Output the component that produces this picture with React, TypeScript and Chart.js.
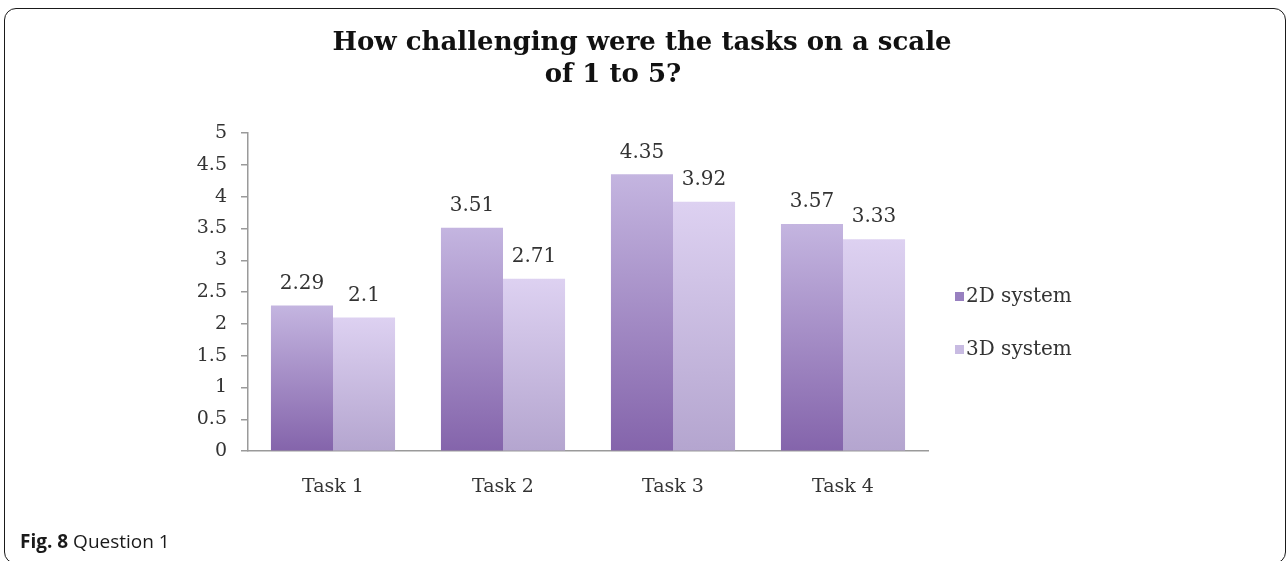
import React, { useEffect, useRef } from "react";
import { Chart, registerables } from "chart.js";

Chart.register(...registerables);

const categories = ["Task 1", "Task 2", "Task 3", "Task 4"];
const series2D = [2.29, 3.51, 4.35, 3.57];
const series3D = [2.1, 2.71, 3.92, 3.33];
const seriesNames = ["2D system", "3D system"];
const yTickLabels = ["0", "0.5", "1", "1.5", "2", "2.5", "3", "3.5", "4", "4.5", "5"];
const titleLines = ["How challenging were the tasks on a scale", "of 1 to 5?"];

const SERIF = "'DejaVu Serif', serif";
const TEXT = "#333333";
const AXIS = "#9a9a9a";

function barGradient(top: string, bottom: string) {
  return (ctx: any) => {
    const chart = ctx.chart;
    const yScale = chart.scales && chart.scales.y;
    if (!chart.chartArea || !yScale || ctx.type !== "data") return bottom;
    const v = ctx.raw as number;
    const yTop = yScale.getPixelForValue(v);
    const yBot = yScale.getPixelForValue(0);
    if (!isFinite(yTop) || !isFinite(yBot) || yTop === yBot) return bottom;
    const g = chart.ctx.createLinearGradient(0, yTop, 0, yBot);
    g.addColorStop(0, top);
    g.addColorStop(1, bottom);
    return g;
  };
}

const valueLabels = {
  id: "valueLabels",
  afterDatasetsDraw(chart: any) {
    const { ctx } = chart;
    chart.data.datasets.forEach((ds: any, i: number) => {
      const meta = chart.getDatasetMeta(i);
      meta.data.forEach((bar: any, j: number) => {
        ctx.save();
        ctx.font = `20px ${SERIF}`;
        ctx.fillStyle = TEXT;
        ctx.textAlign = "center";
        ctx.textBaseline = "bottom";
        ctx.fillText(String(ds.data[j]), bar.x, bar.y - 12);
        ctx.restore();
      });
    });
  },
};

const sideLegend = {
  id: "sideLegend",
  afterDraw(chart: any) {
    const { ctx, chartArea } = chart;
    const x = chartArea.right + 27;
    const startY = 297;
    const gap = 53;
    chart.data.datasets.forEach((ds: any, i: number) => {
      const y = startY + i * gap;
      ctx.save();
      ctx.fillStyle = ds.legendColor;
      ctx.fillRect(x, y - 5, 9, 9);
      ctx.font = `20px ${SERIF}`;
      ctx.fillStyle = TEXT;
      ctx.textAlign = "left";
      ctx.textBaseline = "middle";
      ctx.fillText(ds.label, x + 11, y);
      ctx.restore();
    });
  },
};

const chartTitle = {
  id: "chartTitle",
  afterDraw(chart: any) {
    const { ctx } = chart;
    const centers = [642, 613];
    const ys = [43, 75];
    ctx.save();
    ctx.font = `bold 26px ${SERIF}`;
    ctx.fillStyle = "#111111";
    ctx.textAlign = "center";
    ctx.textBaseline = "middle";
    titleLines.forEach((line, i) => ctx.fillText(line, centers[i], ys[i]));
    ctx.restore();
  },
};

export default function App() {
  const ref = useRef<HTMLCanvasElement | null>(null);

  useEffect(() => {
    if (!ref.current) return;
    const chart = new Chart(ref.current, {
      type: "bar",
      data: {
        labels: categories,
        datasets: [
          {
            label: seriesNames[0],
            data: series2D,
            backgroundColor: barGradient("#c4b5e0", "#8464ab"),
            legendColor: "#9880c0",
            categoryPercentage: 0.73,
            barPercentage: 1.0,
            borderWidth: 0,
          } as any,
          {
            label: seriesNames[1],
            data: series3D,
            backgroundColor: barGradient("#ddd1f1", "#b4a5cf"),
            legendColor: "#c8bbe2",
            categoryPercentage: 0.73,
            barPercentage: 1.0,
            borderWidth: 0,
          } as any,
        ],
      },
      options: {
        animation: false,
        responsive: false,
        maintainAspectRatio: false,
        events: [],
        layout: { padding: { left: 188, right: 360, top: 133, bottom: 39 } },
        plugins: {
          legend: { display: false },
          tooltip: { enabled: false },
          title: { display: false },
        },
        scales: {
          x: {
            grid: { display: false, drawTicks: false },
            border: { display: true, color: AXIS, width: 1.5 },
            ticks: { color: TEXT, font: { family: SERIF, size: 19 }, padding: 24 },
          },
          y: {
            min: 0,
            max: 5,
            ticks: {
              stepSize: 0.5,
              color: TEXT,
              font: { family: SERIF, size: 19 },
              padding: 14,
              callback: (_v: any, i: number) => yTickLabels[i],
            },
            grid: { drawOnChartArea: false, drawTicks: true, tickLength: 7, color: AXIS, lineWidth: 1.5 },
            border: { display: true, color: AXIS, width: 1.5 },
            afterFit: (scale: any) => {
              scale.width = 60;
            },
          },
        },
      } as any,
      plugins: [valueLabels, sideLegend, chartTitle],
    });
    return () => chart.destroy();
  }, []);

  return (
    <div style={{ position: "absolute", left: 0, top: 0, width: 1288, height: 561, overflow: "hidden", background: "#fff" }}>
      <div
        style={{
          position: "absolute",
          left: 4,
          top: 8,
          width: 1282,
          height: 556,
          border: "1.5px solid #1a1a1a",
          borderRadius: 12,
          boxSizing: "border-box",
        }}
      />
      <canvas ref={ref} width={1288} height={561} style={{ position: "absolute", left: 0, top: 0, width: 1288, height: 561 }} />
      <div
        style={{
          position: "absolute",
          left: 20,
          top: 528,
          fontFamily: "'Open Sans', sans-serif",
          fontSize: 19,
          lineHeight: "26px",
          color: "#1a1a1a",
        }}
      >
        <b>Fig. 8</b> Question 1
      </div>
    </div>
  );
}
